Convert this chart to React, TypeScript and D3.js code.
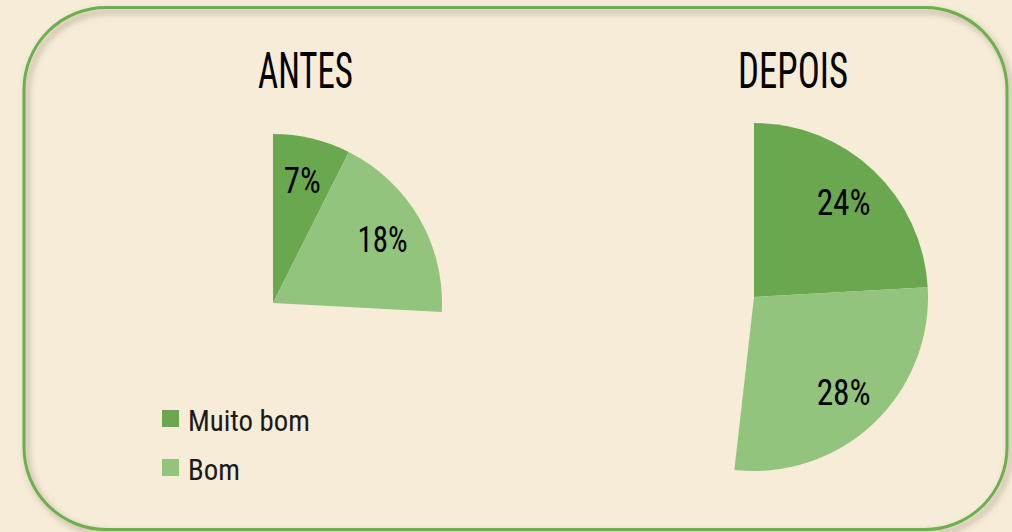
import React, { useEffect, useRef } from 'react';
import * as d3 from 'd3';

// values (percent of all answers)
const categories = ['Muito bom', 'Bom'];
const antesValues = [7.4, 18.45];
const depoisValues = [24.1, 27.7];
const titles = ['ANTES', 'DEPOIS'];
const colors = ['#6aa84f', '#93c47d'];

const W = 1012;
const H = 532;
const FONT = "'Roboto Condensed', Roboto, 'DejaVu Sans Condensed', sans-serif";

const App = () => {
  const ref = useRef<SVGSVGElement>(null);

  useEffect(() => {
    document.body.style.margin = '0';
    const svg = d3.select(ref.current).attr('width', W).attr('height', H);
    svg.selectAll('*').remove();

    svg.append('rect').attr('width', W).attr('height', H).attr('fill', '#f6ecd8');

    const defs = svg.append('defs');
    const f = defs.append('filter').attr('id', 'shadow')
      .attr('x', '-5%').attr('y', '-5%').attr('width', '110%').attr('height', '110%');
    f.append('feDropShadow')
      .attr('dx', 3).attr('dy', 4).attr('stdDeviation', 3)
      .attr('flood-color', '#6f5f45').attr('flood-opacity', 0.55);

    // frame
    svg.append('rect')
      .attr('x', 24).attr('y', 7.5)
      .attr('width', 983).attr('height', 522)
      .attr('rx', 82).attr('ry', 82)
      .attr('fill', 'none')
      .attr('stroke', '#6ab04c')
      .attr('stroke-width', 3)
      .attr('filter', 'url(#shadow)');

    const pies = [
      { values: antesValues, cx: 273, cy: 303, r: 169, title: titles[0], tx: 305.5, tw: 95 },
      { values: depoisValues, cx: 754, cy: 297, r: 174, title: titles[1], tx: 793, tw: 110 },
    ];
    const labelWidth: Record<string, number> = { '7%': 37, '18%': 50, '24%': 54, '28%': 54 };
    const fmt = d3.format('.0f');

    pies.forEach(p => {
      const total = d3.sum(p.values);
      const pie = d3.pie<number>()
        .sort(null)
        .value(d => d)
        .startAngle(0)
        .endAngle((2 * Math.PI * total) / 100);
      const arcs = pie(p.values);
      const arc = d3.arc<d3.PieArcDatum<number>>().innerRadius(0).outerRadius(p.r);
      const labelArc = d3.arc<d3.PieArcDatum<number>>()
        .innerRadius(p.r * 0.75).outerRadius(p.r * 0.75);

      const g = svg.append('g').attr('transform', `translate(${p.cx},${p.cy})`);
      g.selectAll('path')
        .data(arcs)
        .enter()
        .append('path')
        .attr('d', arc)
        .attr('fill', (_, i) => colors[i]);

      g.selectAll('text')
        .data(arcs)
        .enter()
        .append('text')
        .attr('x', d => labelArc.centroid(d)[0])
        .attr('y', d => labelArc.centroid(d)[1] + 13)
        .attr('text-anchor', 'middle')
        .attr('font-family', FONT)
        .attr('font-size', 36)
        .attr('fill', '#000')
        .attr('textLength', d => labelWidth[fmt(d.data) + '%'] || 50)
        .attr('lengthAdjust', 'spacingAndGlyphs')
        .text(d => fmt(d.data) + '%');

      svg.append('text')
        .attr('x', p.tx)
        .attr('y', 88)
        .attr('text-anchor', 'middle')
        .attr('font-family', FONT)
        .attr('font-size', 50)
        .attr('fill', '#000')
        .attr('textLength', p.tw)
        .attr('lengthAdjust', 'spacingAndGlyphs')
        .text(p.title);
    });

    // legend
    const legendWidth = [122, 52];
    const lg = svg.append('g').attr('transform', 'translate(162,410)');
    categories.forEach((c, i) => {
      const row = lg.append('g').attr('transform', `translate(0,${i * 49})`);
      row.append('rect').attr('width', 17).attr('height', 17).attr('fill', colors[i]);
      row.append('text')
        .attr('x', 26)
        .attr('y', 20.5)
        .attr('font-family', FONT)
        .attr('font-size', 29)
        .attr('fill', '#1a1a1a')
        .attr('textLength', legendWidth[i])
        .attr('lengthAdjust', 'spacingAndGlyphs')
        .text(c);
    });
  }, []);

  return <svg ref={ref} style={{ display: 'block' }} />;
};

export default App;
